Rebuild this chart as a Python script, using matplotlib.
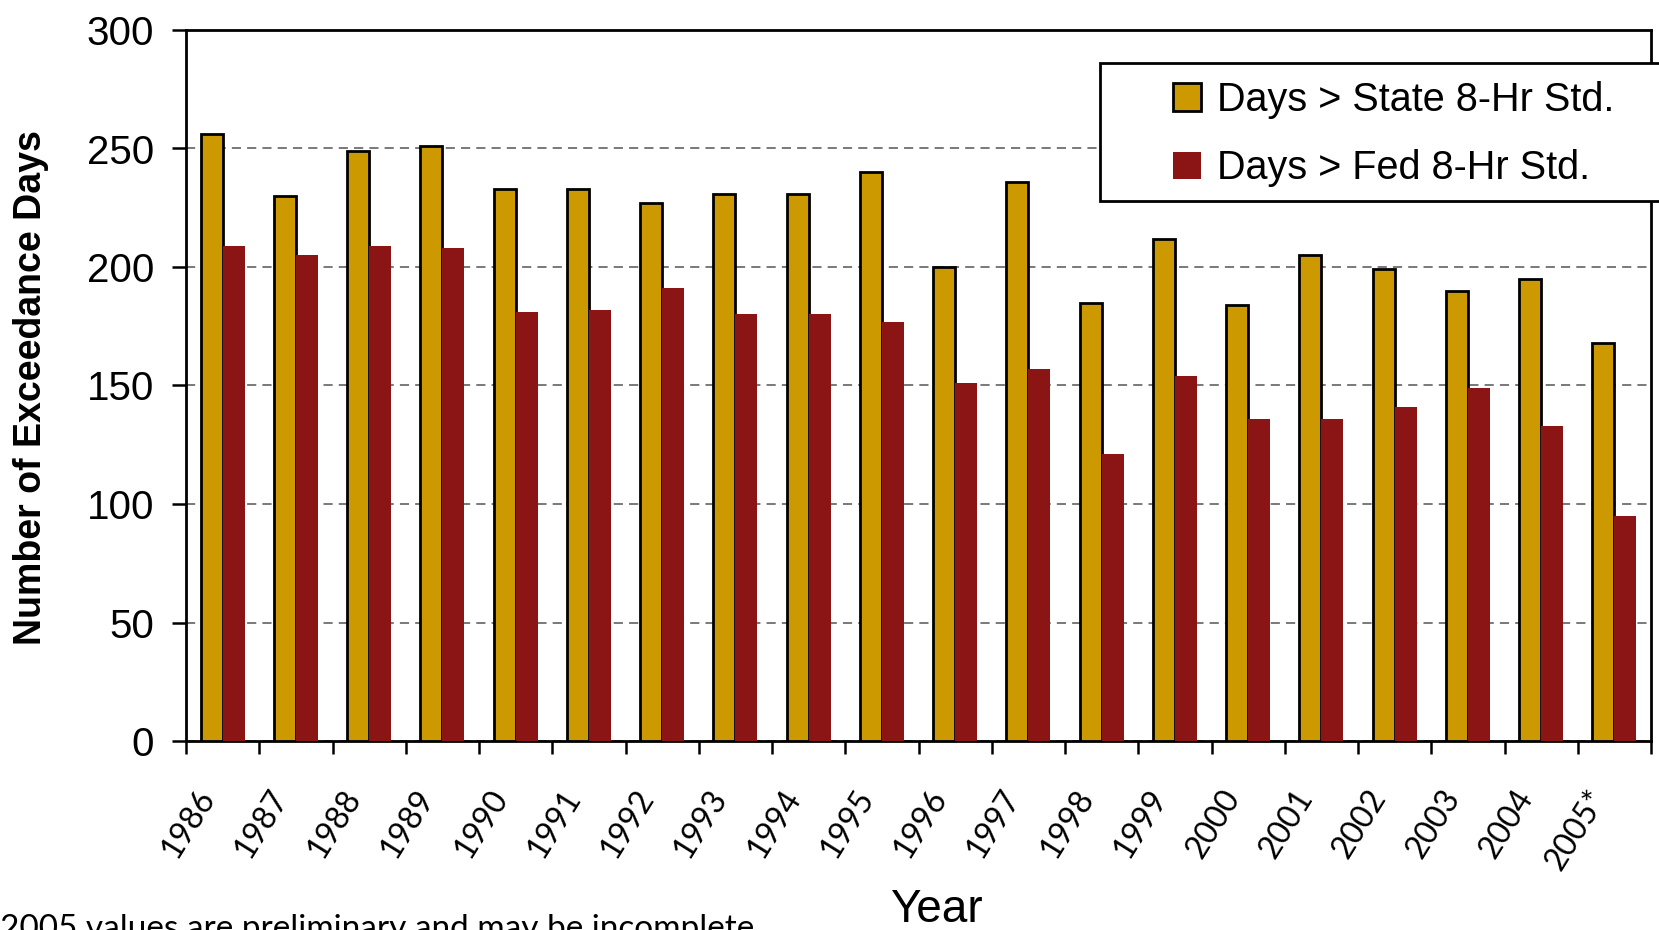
import matplotlib.pyplot as plt
import numpy as np
from matplotlib.patches import Rectangle
from matplotlib.transforms import ScaledTranslation

years = ['1986', '1987', '1988', '1989', '1990', '1991', '1992', '1993', '1994', '1995',
         '1996', '1997', '1998', '1999', '2000', '2001', '2002', '2003', '2004', '2005*']
state_days = [256, 230, 249, 251, 233, 233, 227, 231, 231, 240,
              200, 236, 185, 212, 184, 205, 199, 190, 195, 168]
fed_days = [209, 205, 209, 208, 181, 182, 191, 180, 180, 177,
            151, 157, 121, 154, 136, 136, 141, 149, 133, 95]

W, H = 1659, 930
fig = plt.figure(figsize=(W / 100, H / 100), dpi=100)
ax = fig.add_axes([186 / W, 1 - 741 / H, (1651 - 186) / W, (741 - 30) / H])

x = np.arange(len(years))
bw = 0.3
ax.bar(x - bw / 2, state_days, bw, color='#CC9900', edgecolor='black', linewidth=2.0,
       label='Days > State 8-Hr Std.', zorder=3)
ax.bar(x + bw / 2, fed_days, bw, color='#8B1515', edgecolor='none',
       label='Days > Fed 8-Hr Std.', zorder=3)

ax.set_xlim(-0.5, len(years) - 0.5)
ax.set_ylim(0, 300)
ax.set_yticks(np.arange(0, 301, 50))
ax.yaxis.grid(True, linestyle=(0, (6, 4)), color='#555555', linewidth=1.1, zorder=0)
ax.set_axisbelow(True)

for s in ax.spines.values():
    s.set_linewidth(2.0)
    s.set_color('black')

ax.tick_params(axis='y', direction='out', length=10, width=1.8, pad=13,
               labelsize=29, labelfontfamily='Liberation Sans')
ax.set_xticks(x, years)
ax.set_xticks(np.arange(-0.5, len(years), 1), minor=True)
ax.tick_params(axis='x', which='major', length=0, pad=37)
ax.tick_params(axis='x', which='minor', direction='out', length=9, width=1.8)
off = ScaledTranslation(-0.15, 0, fig.dpi_scale_trans)
for lab in ax.get_xticklabels():
    lab.set_rotation(58)
    lab.set_ha('right')
    lab.set_va('center')
    lab.set_rotation_mode('anchor')
    lab.set_fontsize(23)
    lab.set_fontfamily('Lato')
    lab.set_transform(lab.get_transform() + off)

fig.text(31 / W, 1 - 388 / H, 'Number of Exceedance Days', rotation=90, ha='center', va='center',
         fontsize=27, fontweight='bold', family='Liberation Sans')
fig.text(936 / W, 1 - 922 / H, 'Year', ha='center', va='baseline',
         fontsize=33, family='Liberation Sans')
fig.text(0, 1 - 914 / H, '2005 values are preliminary and may be incomplete.', ha='left', va='top',
         fontsize=24, family='Lato')

# legend box runs off the right edge like the original
ax.add_patch(Rectangle((1100 / W, 1 - 201 / H), 700 / W, 138 / H, transform=fig.transFigure,
                       facecolor='white', edgecolor='black', linewidth=2.0, zorder=5, clip_on=False))
leg = ax.legend(loc='upper left', bbox_to_anchor=(1173 / W, 1 - 81 / H),
                bbox_transform=fig.transFigure, frameon=False,
                prop={'family': 'Liberation Sans', 'size': 28.5},
                handlelength=0.7, handleheight=0.7, handletextpad=0.4,
                labelspacing=0.77, borderpad=0, borderaxespad=0)
leg.set_zorder(6)

fig.savefig('out.png', dpi=100)
